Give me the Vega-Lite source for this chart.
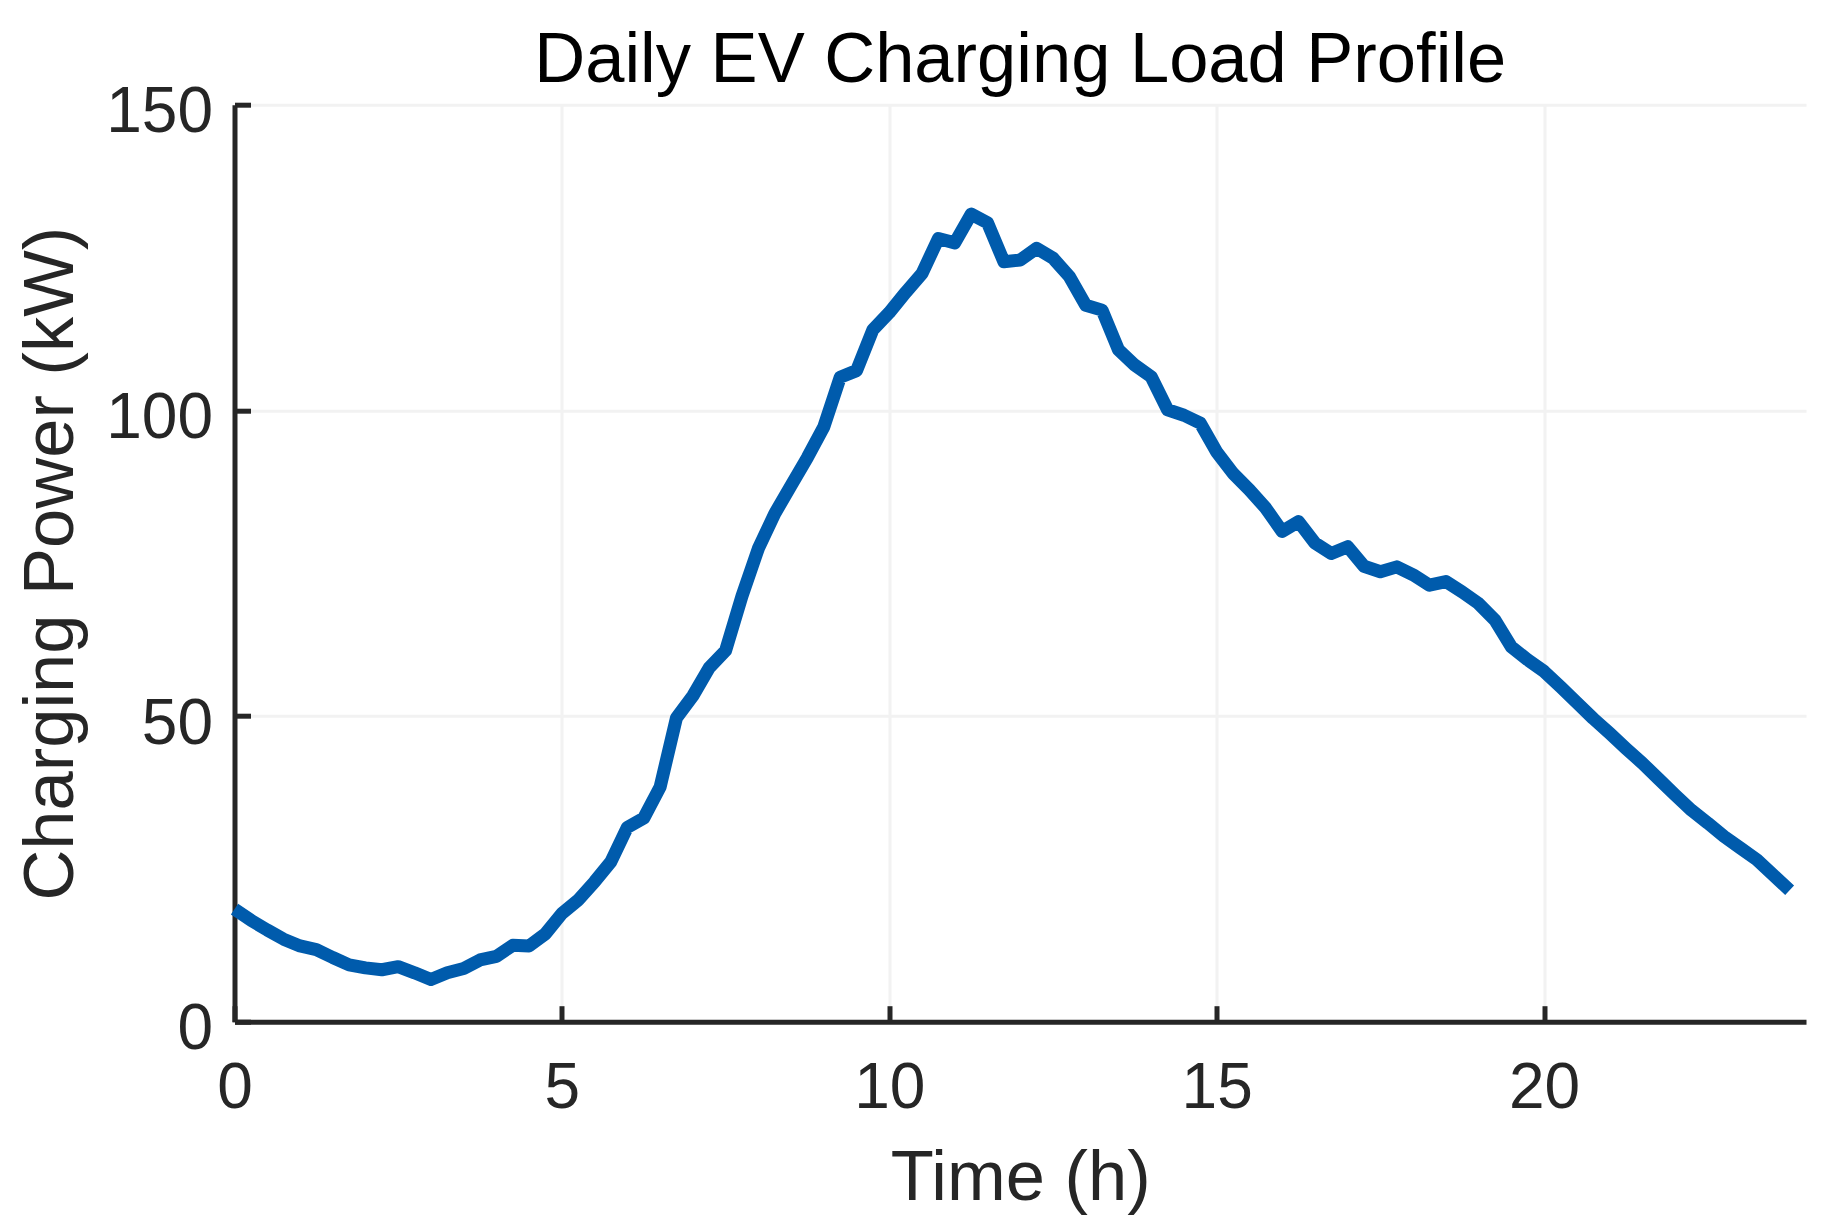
{
  "$schema": "https://vega.github.io/schema/vega-lite/v6.json",
  "width": 1571.5,
  "height": 917,
  "autosize": {"type": "none"},
  "padding": {"left": 234.5, "top": 104.7, "right": 24, "bottom": 204.3},
  "background": "white",
  "title": {
    "text": "Daily EV Charging Load Profile",
    "frame": "group",
    "anchor": "middle",
    "font": "Liberation Sans",
    "fontSize": 70.5,
    "fontWeight": "normal",
    "color": "#000000",
    "baseline": "alphabetic",
    "offset": -71.6
  },
  "data": {
    "values": [
      {"time": 0, "power": 18.4}, {"time": 0.25, "power": 16.6}, {"time": 0.5, "power": 15.0}, {"time": 0.75, "power": 13.5},
      {"time": 1, "power": 12.4}, {"time": 1.25, "power": 11.8}, {"time": 1.5, "power": 10.5}, {"time": 1.75, "power": 9.3},
      {"time": 2, "power": 8.8}, {"time": 2.25, "power": 8.5}, {"time": 2.5, "power": 9.0}, {"time": 2.75, "power": 8.0},
      {"time": 3, "power": 6.9}, {"time": 3.25, "power": 8.0}, {"time": 3.5, "power": 8.7}, {"time": 3.75, "power": 10.1},
      {"time": 4, "power": 10.7}, {"time": 4.25, "power": 12.5}, {"time": 4.5, "power": 12.4}, {"time": 4.75, "power": 14.4},
      {"time": 5, "power": 17.7}, {"time": 5.25, "power": 19.9}, {"time": 5.5, "power": 22.9}, {"time": 5.75, "power": 26.2},
      {"time": 6, "power": 31.8}, {"time": 6.25, "power": 33.3}, {"time": 6.5, "power": 38.4}, {"time": 6.75, "power": 49.7},
      {"time": 7, "power": 53.3}, {"time": 7.25, "power": 57.9}, {"time": 7.5, "power": 60.7}, {"time": 7.75, "power": 69.6},
      {"time": 8, "power": 77.4}, {"time": 8.25, "power": 83.1}, {"time": 8.5, "power": 87.7}, {"time": 8.75, "power": 92.3},
      {"time": 9, "power": 97.3}, {"time": 9.25, "power": 105.4}, {"time": 9.5, "power": 106.5}, {"time": 9.75, "power": 113.2},
      {"time": 10, "power": 116.0}, {"time": 10.25, "power": 119.3}, {"time": 10.5, "power": 122.4}, {"time": 10.75, "power": 128.1},
      {"time": 11, "power": 127.4}, {"time": 11.25, "power": 132.1}, {"time": 11.5, "power": 130.7}, {"time": 11.75, "power": 124.3},
      {"time": 12, "power": 124.6}, {"time": 12.25, "power": 126.5}, {"time": 12.5, "power": 124.9}, {"time": 12.75, "power": 121.9},
      {"time": 13, "power": 117.2}, {"time": 13.25, "power": 116.4}, {"time": 13.5, "power": 109.9}, {"time": 13.75, "power": 107.4},
      {"time": 14, "power": 105.5}, {"time": 14.25, "power": 100.1}, {"time": 14.5, "power": 99.2}, {"time": 14.75, "power": 97.9},
      {"time": 15, "power": 93.2}, {"time": 15.25, "power": 89.7}, {"time": 15.5, "power": 87.0}, {"time": 15.75, "power": 84.0},
      {"time": 16, "power": 80.2}, {"time": 16.25, "power": 81.8}, {"time": 16.5, "power": 78.3}, {"time": 16.75, "power": 76.6},
      {"time": 17, "power": 77.7}, {"time": 17.25, "power": 74.5}, {"time": 17.5, "power": 73.6}, {"time": 17.75, "power": 74.4},
      {"time": 18, "power": 73.1}, {"time": 18.25, "power": 71.4}, {"time": 18.5, "power": 72.0}, {"time": 18.75, "power": 70.3},
      {"time": 19, "power": 68.4}, {"time": 19.25, "power": 65.7}, {"time": 19.5, "power": 61.3}, {"time": 19.75, "power": 59.2},
      {"time": 20, "power": 57.3}, {"time": 20.25, "power": 54.8}, {"time": 20.5, "power": 52.2}, {"time": 20.75, "power": 49.6},
      {"time": 21, "power": 47.2}, {"time": 21.25, "power": 44.7}, {"time": 21.5, "power": 42.3}, {"time": 21.75, "power": 39.7},
      {"time": 22, "power": 37.1}, {"time": 22.25, "power": 34.6}, {"time": 22.5, "power": 32.5}, {"time": 22.75, "power": 30.3},
      {"time": 23, "power": 28.4}, {"time": 23.25, "power": 26.5}, {"time": 23.5, "power": 24.0}, {"time": 23.75, "power": 21.5}
    ]
  },
  "mark": {"type": "line", "color": "#005BAC", "strokeWidth": 13, "strokeJoin": "round", "strokeCap": "butt"},
  "encoding": {
    "x": {
      "field": "time",
      "type": "quantitative",
      "scale": {"domain": [0, 24], "nice": false, "zero": false},
      "axis": {
        "title": "Time (h)",
        "values": [0, 5, 10, 15, 20],
        "format": "d",
        "grid": true,
        "gridColor": "#f2f2f2",
        "gridWidth": 3,
        "domainColor": "#262626",
        "domainWidth": 5,
        "tickColor": "#262626",
        "tickWidth": 5,
        "tickSize": -16,
        "labelFont": "Liberation Sans",
        "labelFontSize": 64,
        "labelColor": "#262626",
        "labelPadding": 51,
        "labelFlush": false,
        "labelOverlap": false,
        "titleFont": "Liberation Sans",
        "titleFontSize": 70.5,
        "titleFontWeight": "normal",
        "titleColor": "#262626",
        "titleBaseline": "alphabetic",
        "titleX": 785.75,
        "titleY": 177.3
      }
    },
    "y": {
      "field": "power",
      "type": "quantitative",
      "scale": {"domain": [0, 150], "nice": false},
      "axis": {
        "title": "Charging Power (kW)",
        "values": [0, 50, 100, 150],
        "format": "d",
        "grid": true,
        "gridColor": "#f2f2f2",
        "gridWidth": 3,
        "domainColor": "#262626",
        "domainWidth": 5,
        "tickColor": "#262626",
        "tickWidth": 5,
        "tickSize": -16,
        "labelFont": "Liberation Sans",
        "labelFontSize": 64,
        "labelColor": "#262626",
        "labelPadding": 38,
        "labelOffset": 8,
        "labelFlush": false,
        "labelOverlap": false,
        "titleFont": "Liberation Sans",
        "titleFontSize": 70.5,
        "titleFontWeight": "normal",
        "titleColor": "#262626",
        "titleAngle": -90,
        "titleBaseline": "alphabetic",
        "titleAlign": "center",
        "titleX": -162.5,
        "titleY": 458.5
      }
    }
  },
  "config": {"view": {"stroke": null}}
}
